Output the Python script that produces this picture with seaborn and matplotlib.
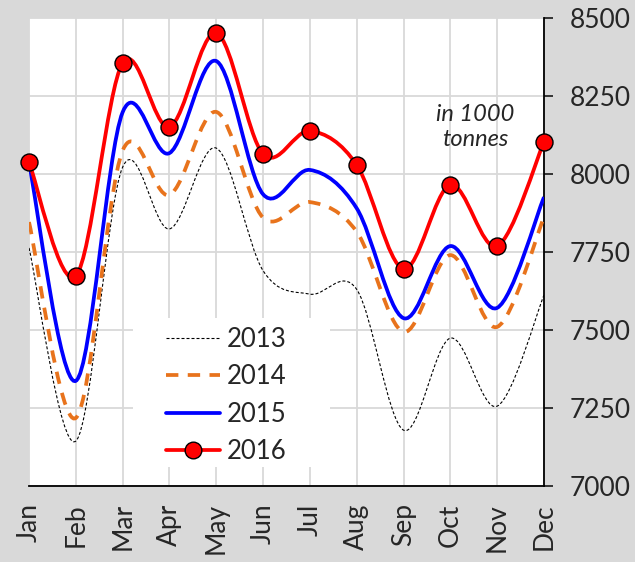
import numpy as np
import matplotlib
matplotlib.use("Agg")
import matplotlib.pyplot as plt
from matplotlib.path import Path
from matplotlib.patches import PathPatch, Rectangle
from matplotlib.lines import Line2D
import seaborn as sns

# monthly values, in 1000 tonnes
months = ['Jan', 'Feb', 'Mar', 'Apr', 'May', 'Jun',
          'Jul', 'Aug', 'Sep', 'Oct', 'Nov', 'Dec']
y2013 = [7763, 7144, 8022, 7824, 8083, 7690, 7615, 7630, 7179, 7474, 7256, 7612]
y2014 = [7846, 7218, 8075, 7933, 8199, 7860, 7910, 7815, 7494, 7740, 7510, 7862]
y2015 = [8035, 7337, 8198, 8067, 8362, 7935, 8013, 7890, 7538, 7769, 7571, 7926]
y2016 = [8038, 7673, 8356, 8151, 8452, 8064, 8138, 8029, 7696, 7965, 7769, 8103]
yticks = [7000, 7250, 7500, 7750, 8000, 8250, 8500]

sns.set_style('white')
plt.rcParams['font.family'] = ['Lato', 'DejaVu Sans']


def smooth_path(xs, ys):
    # Excel-style smoothed line: Catmull-Rom segments as cubic Beziers
    pts = np.column_stack([xs, ys]).astype(float)
    ext = np.vstack([pts[0], pts, pts[-1]])
    verts = [pts[0]]
    codes = [Path.MOVETO]
    for i in range(len(pts) - 1):
        p0, p1, p2, p3 = ext[i], ext[i + 1], ext[i + 2], ext[i + 3]
        verts += [p1 + (p2 - p0) / 6, p2 - (p3 - p1) / 6, p2]
        codes += [Path.CURVE4] * 3
    return Path(verts, codes)


styles = {
    '2013': dict(color='black', lw=0.8, ls=(0, (2.7, 1.8))),
    '2014': dict(color='#e8731c', lw=2.7, ls=(0, (3.3, 2.5))),
    '2015': dict(color='#0000ff', lw=2.7, ls='-'),
    '2016': dict(color='#ff0000', lw=2.7, ls='-'),
}
series = {'2013': y2013, '2014': y2014, '2015': y2015, '2016': y2016}

fig = plt.figure(figsize=(6.35, 5.62), dpi=100, facecolor='#d9d9d9')
ax = fig.add_axes([29 / 635, 1 - 486 / 562, (544 - 29) / 635, (486 - 18) / 562])
ax.set_facecolor('white')

x = np.arange(len(months))
for name, vals in series.items():
    st = styles[name]
    ax.add_patch(PathPatch(smooth_path(x, vals), fill=False, edgecolor=st['color'],
                           lw=st['lw'], linestyle=st['ls'], capstyle='butt', zorder=3))

sns.scatterplot(x=x, y=y2016, ax=ax, s=150, color='#ff0000', edgecolor='black',
                linewidth=1, zorder=5, clip_on=False, legend=False)

ax.set_xlim(0, 11)
ax.set_ylim(7000, 8500)
ax.set_xticks(x)
ax.set_xticklabels(months, rotation=90)
ax.set_yticks(yticks)
ax.yaxis.tick_right()
ax.grid(True, color='#d9d9d9', lw=1.3)
ax.set_axisbelow(True)
for s in ['left', 'top']:
    ax.spines[s].set_visible(False)
for s in ['right', 'bottom']:
    ax.spines[s].set_color('black')
    ax.spines[s].set_linewidth(1.3)
ax.tick_params(axis='y', direction='out', length=6.5, width=1.3, pad=12, labelsize=19)
ax.tick_params(axis='x', direction='out', length=6.5, width=1.3, pad=6, labelsize=19)
ax.set_xlabel('')
ax.set_ylabel('')

ax.text(0.866, 0.767, 'in 1000\ntonnes', transform=ax.transAxes, ha='center', va='center',
        fontsize=17, style='italic', linespacing=1.2)

# white legend area hiding the grid
ax.add_patch(Rectangle((133 / 635, 1 - 467 / 562), 197 / 635, 149 / 562,
                       transform=fig.transFigure, facecolor='white', edgecolor='none',
                       zorder=2))

handles = []
for name in series:
    st = styles[name]
    h = Line2D([], [], color=st['color'], lw=st['lw'], ls=st['ls'])
    if name == '2016':
        h = Line2D([], [], color=st['color'], lw=st['lw'], marker='o', markersize=12,
                   markerfacecolor='#ff0000', markeredgecolor='black', markeredgewidth=1)
    handles.append(h)
leg = ax.legend(handles, list(series), loc='upper left',
                bbox_to_anchor=(166 / 635, 1 - 327 / 562), bbox_transform=fig.transFigure,
                frameon=False, fontsize=18.5, handlelength=2.1, handletextpad=0.25,
                labelspacing=0.48, borderpad=0, borderaxespad=0)
leg.set_zorder(6)

fig.savefig('out.png', dpi=100, facecolor=fig.get_facecolor())
